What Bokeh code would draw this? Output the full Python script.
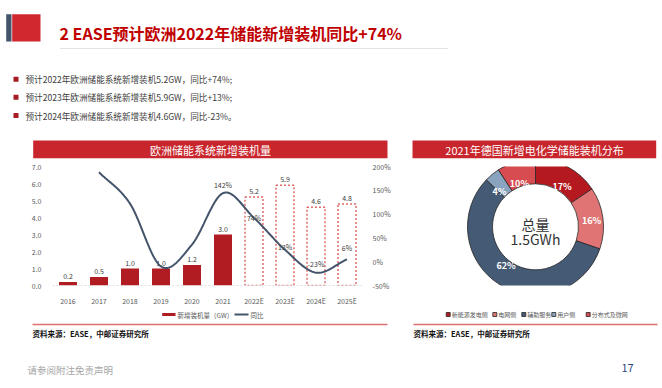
import numpy as np
from bokeh.plotting import figure
from bokeh.layouts import column, row
from bokeh.models import Range1d, LinearAxis, FixedTicker, NumeralTickFormatter, Span
from bokeh.core.properties import value
from bokeh.embed import file_html
from bokeh.resources import INLINE

FONT = "Noto Sans CJK SC"

# ---------------- data ----------------
title_text = "2 EASE预计欧洲2022年储能新增装机同比+74%"
bullets = [
    "预计2022年欧洲储能系统新增装机5.2GW，同比+74%;",
    "预计2023年欧洲储能系统新增装机5.9GW，同比+13%;",
    "预计2024年欧洲储能系统新增装机4.6GW，同比-23%。",
]
bar_title = "欧洲储能系统新增装机量"
pie_title = "2021年德国新增电化学储能装机分布"

years = ["2016", "2017", "2018", "2019", "2020", "2021", "2022E", "2023E", "2024E", "2025E"]
capacity = [0.2, 0.5, 1.0, 1.0, 1.2, 3.0, 5.2, 5.9, 4.6, 4.8]
forecast = [False, False, False, False, False, False, True, True, True, True]
yoy_years = ["2017", "2018", "2019", "2020", "2021", "2022E", "2023E", "2024E", "2025E"]
yoy = [1.88, 1.22, -0.10, 0.36, 1.44, 0.92, 0.25, -0.23, 0.05]
yoy_label_years = ["2021", "2022E", "2023E", "2024E", "2025E"]
yoy_label_text = ["142%", "74%", "13%", "-23%", "6%"]
left_ticks = [0, 1, 2, 3, 4, 5, 6, 7]
right_ticks = [-0.5, 0, 0.5, 1.0, 1.5, 2.0]
legend_bar = "新增装机量（GW）"
legend_line = "同比"

pie_cats = ["新能源发电侧", "电网侧", "辅助服务", "用户侧", "分布式及微网"]
pie_vals = [17, 16, 62, 4, 10]
pie_center_text = ["总量", "1.5GWh"]
source_text = "资料来源：EASE，中邮证券研究所"
disclaimer = "请参阅附注免责声明"
page_no = "17"

# ---------------- styles ----------------
RED = "#c8262c"
BAR_RED = "#b01c22"
NAVY = "#44546a"
pie_colors = ["#b3191f", "#e07474", "#455a75", "#8aa3bf", "#d64c50"]
GRAY = "#595959"


def deco(x0, x1, y0, y1):
    p = figure(width=int(round(x1 - x0)), height=int(round(y1 - y0)),
               x_range=Range1d(x0, x1), y_range=Range1d(y1, y0),
               toolbar_location=None, output_backend="svg",
               x_axis_location=None, y_axis_location=None,
               min_border=0, min_border_left=0, min_border_right=0,
               min_border_top=0, min_border_bottom=0)
    p.grid.visible = False
    p.outline_line_color = None
    p.background_fill_color = "white"
    p.border_fill_color = "white"
    return p


# ---------------- header ----------------
hd = deco(0, 662, 0, 160)
hd.quad(left=5.7, right=11, top=13.7, bottom=41, fill_color=NAVY, line_color=None)
hd.quad(left=11.7, right=40, top=13.7, bottom=41, fill_color="#d0282e", line_color=None)
hd.text(x=[59], y=[32], text=[title_text], text_font=value(FONT), text_font_size="16px",
        text_font_style="bold", text_color="#c00000", text_baseline="middle", text_align="left")
hd.line(x=[60, 447], y=[48, 48], line_color="#c8c8c8", line_width=1, line_dash="1 1")
by = [78.7, 96.7, 115]
hd.rect(x=[15.5] * 3, y=by, width=5, height=5, fill_color="#a51c22", line_color=None)
hd.text(x=[25] * 3, y=by, text=bullets, text_font=value(FONT), text_font_size="8.6px",
        text_color="#404040", text_baseline="middle", text_align="left")
hd.quad(left=32.7, right=387, top=140, bottom=157.7, fill_color=RED, line_color=None)
hd.text(x=[210], y=[149], text=[bar_title], text_font=value(FONT), text_font_size="11px",
        text_color="white", text_baseline="middle", text_align="center")
hd.quad(left=412, right=655.7, top=140, bottom=157.7, fill_color=RED, line_color=None)
hd.text(x=[534], y=[149], text=[pie_title], text_font=value(FONT), text_font_size="11px",
        text_color="white", text_baseline="middle", text_align="center")

# ---------------- bar / line chart ----------------
xs = list(range(len(years)))
bp = figure(width=405, height=148, x_range=Range1d(-0.5, len(years) - 0.5), y_range=Range1d(0, 7),
            toolbar_location=None, output_backend="svg",
            min_border_left=52, min_border_right=43, min_border_top=6, min_border_bottom=16)
bp.grid.visible = False
bp.outline_line_color = None
bp.background_fill_color = "white"
bp.border_fill_color = "white"
bp.extra_y_ranges = {"pct": Range1d(-0.5, 2.0)}

bp.add_layout(Span(location=0, dimension="width", line_color="#bfbfbf", line_dash="2 2", line_width=1))

ax_x = [x for x, f in zip(xs, forecast) if not f]
ax_y = [c for c, f in zip(capacity, forecast) if not f]
fx_x = [x for x, f in zip(xs, forecast) if f]
fx_y = [c for c, f in zip(capacity, forecast) if f]
bp.vbar(x=ax_x, top=ax_y, width=0.58, fill_color=BAR_RED, line_color=None)
bp.vbar(x=fx_x, top=fx_y, bottom=0, width=0.58, fill_color=None, line_color="#e06a6a",
        line_width=1.5, line_dash="2 2")
bp.text(x=xs, y=capacity, text=[f"{c:.1f}" for c in capacity], text_font=value(FONT),
        text_font_size="7px", text_color="#404040", text_align="center", text_baseline="bottom",
        y_offset=-3)


def smooth(xv, yv, n=24):
    x = np.asarray(xv, float)
    y = np.asarray(yv, float)
    m = np.gradient(y, x)
    ox, oy = [], []
    for i in range(len(x) - 1):
        t = np.linspace(0, 1, n, endpoint=(i == len(x) - 2))
        h = x[i + 1] - x[i]
        h00 = 2 * t**3 - 3 * t**2 + 1
        h10 = t**3 - 2 * t**2 + t
        h01 = -2 * t**3 + 3 * t**2
        h11 = t**3 - t**2
        oy.append(h00 * y[i] + h10 * h * m[i] + h01 * y[i + 1] + h11 * h * m[i + 1])
        ox.append(x[i] + t * h)
    return np.concatenate(ox), np.concatenate(oy)


yx = [years.index(y) for y in yoy_years]
sx, sy = smooth(yx, yoy)
bp.line(sx, sy, y_range_name="pct", line_color=NAVY, line_width=2)

lab_x = [years.index(y) for y in yoy_label_years]
lab_y = [yoy[yoy_years.index(y)] for y in yoy_label_years]
lab_off = [-8, 0, -3, -9, -11]
bp.text(x=lab_x, y=lab_y, text=yoy_label_text, y_range_name="pct", y_offset=lab_off,
        text_font=value(FONT), text_font_size="7px", text_color="#404040",
        text_align="center", text_baseline="middle")

for ax in [bp.xaxis[0], bp.yaxis[0]]:
    ax.axis_line_color = None
    ax.major_tick_line_color = None
    ax.minor_tick_line_color = None
    ax.major_label_text_font = FONT
    ax.major_label_text_font_size = "7px"
    ax.major_label_text_color = GRAY
bp.xaxis[0].ticker = FixedTicker(ticks=xs)
bp.xaxis[0].major_label_overrides = {i: y for i, y in enumerate(years)}
bp.xaxis[0].major_label_standoff = 4
bp.yaxis[0].ticker = FixedTicker(ticks=left_ticks)
bp.yaxis[0].formatter = NumeralTickFormatter(format="0.0")
bp.yaxis[0].major_label_standoff = 5
rax = LinearAxis(y_range_name="pct", ticker=FixedTicker(ticks=right_ticks),
                 formatter=NumeralTickFormatter(format="0%"))
rax.axis_line_color = None
rax.major_tick_line_color = None
rax.minor_tick_line_color = None
rax.major_label_text_font = FONT
rax.major_label_text_font_size = "7px"
rax.major_label_text_color = GRAY
rax.major_label_standoff = 4
bp.add_layout(rax, "right")

# ---------------- donut ----------------
pp = figure(width=257, height=148, x_range=Range1d(-130, 127), y_range=Range1d(-73, 75),
            toolbar_location=None, output_backend="svg",
            x_axis_location=None, y_axis_location=None,
            min_border=0, min_border_left=0, min_border_right=0,
            min_border_top=0, min_border_bottom=0)
pp.grid.visible = False
pp.outline_line_color = None
pp.background_fill_color = "white"
pp.border_fill_color = "white"
vals = np.array(pie_vals, float)
frac = vals / vals.sum()
cum = np.concatenate([[0], np.cumsum(frac)])
starts = np.pi / 2 - 2 * np.pi * cum[:-1]
ends = np.pi / 2 - 2 * np.pi * cum[1:]
pp.annular_wedge(x=0, y=0, inner_radius=43, outer_radius=68, start_angle=starts, end_angle=ends,
                 direction="clock", fill_color=pie_colors, line_color="#262626", line_width=0.8)
mids = (starts + ends) / 2
r = 56.5
pp.text(x=r * np.cos(mids), y=r * np.sin(mids), text=[f"{v}%" for v in pie_vals],
        text_font=value(FONT), text_font_size="9px", text_font_style="bold", text_color="white",
        text_align="center", text_baseline="middle")
pp.text(x=[0, 0], y=[3, -15], text=pie_center_text, text_font=value(FONT), text_font_size="14px",
        text_color="#333333", text_align="center", text_baseline="middle")

# ---------------- footer ----------------
ft = deco(0, 662, 308, 388)
ft.quad(left=161.7, right=175, top=312.5, bottom=315.5, fill_color=BAR_RED, line_color=None)
ft.text(x=[177], y=[314], text=[legend_bar], text_font=value(FONT), text_font_size="6.5px",
        text_color=GRAY, text_baseline="middle", text_align="left")
ft.line(x=[234, 248], y=[314, 314], line_color=NAVY, line_width=2)
ft.text(x=[250], y=[314], text=[legend_line], text_font=value(FONT), text_font_size="6.5px",
        text_color=GRAY, text_baseline="middle", text_align="left")
lx = [447.7, 494.3, 523.3, 553.3, 587.7]
ft.rect(x=lx, y=[314] * 5, width=4, height=4, fill_color=pie_colors, line_color="#262626", line_width=0.8)
ft.text(x=[v + 3.5 for v in lx], y=[314] * 5, text=pie_cats, text_font=value(FONT),
        text_font_size="6px", text_color=GRAY, text_baseline="middle", text_align="left")
ft.line(x=[32, 387], y=[324, 324], line_color="#e07070", line_width=1.5)
ft.line(x=[413, 657], y=[324, 324], line_color="#e07070", line_width=1.5)
ft.text(x=[32, 413], y=[333.3, 333.3], text=[source_text, source_text], text_font=value(FONT),
        text_font_size="7.5px", text_font_style="bold", text_color="#111111",
        text_baseline="middle", text_align="left")
ft.text(x=[27], y=[369], text=[disclaimer], text_font=value(FONT), text_font_size="9.5px",
        text_color="#a6a6a6", text_baseline="middle", text_align="left")
ft.text(x=[627], y=[367], text=[page_no], text_font=value(FONT), text_font_size="11px",
        text_color="#2f4a7a", text_baseline="middle", text_align="center")

layout = column(hd, row(bp, pp), ft)
open("out.html", "w").write(file_html(layout, INLINE))
